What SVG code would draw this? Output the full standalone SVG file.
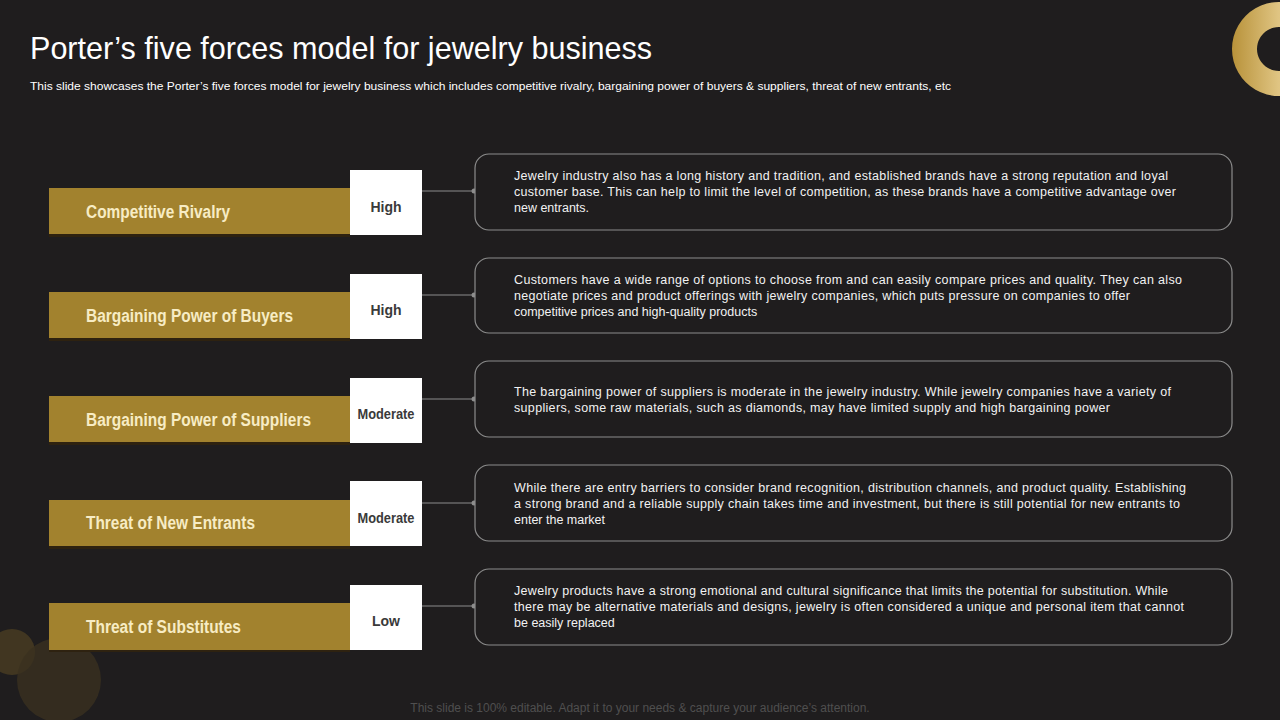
<svg xmlns="http://www.w3.org/2000/svg" width="1280" height="720" viewBox="0 0 1280 720">
<defs>
<linearGradient id="ring" x1="0" y1="0" x2="1" y2="0">
<stop offset="0" stop-color="#b8923a"/>
<stop offset="0.5" stop-color="#e0c583"/>
<stop offset="1" stop-color="#c9a75a"/>
</linearGradient>
<style>
.title{font-family:"Liberation Sans",Arial,sans-serif;font-size:32px;fill:#ffffff}
.sub{font-family:"Liberation Sans",Arial,sans-serif;font-size:11px;fill:#ffffff}
.bar{fill:#a2822e}
.shadow{fill:#2e2210}
.lab{font-family:"Liberation Sans",Arial,sans-serif;font-size:18px;font-weight:bold;fill:#f7ecc4}
.wbox{fill:#ffffff}
.lvl{font-family:"Liberation Sans",Arial,sans-serif;font-size:14px;font-weight:bold;fill:#3a3a3a;text-anchor:middle}
.card{fill:#1f1d1e;stroke:#8c8c8c;stroke-width:1.2}
.desc{font-family:"Liberation Sans",Arial,sans-serif;font-size:12.5px;fill:#f2f2f2}
.conn{stroke:#8c8c8c;stroke-width:1.2;fill:none}
.dot{fill:#8c8c8c}
.foot{font-family:"Liberation Sans",Arial,sans-serif;font-size:12px;fill:#4f4f4f;text-anchor:middle}
</style>
</defs>
<rect x="0" y="0" width="1280" height="720" fill="#1f1d1e"/>
<path d="M1279,2 a47,47 0 1,0 0.01,0 Z M1279,27 a22,22 0 1,1 -0.01,0 Z" fill="url(#ring)" fill-rule="evenodd"/>
<circle cx="12" cy="652" r="23" fill="#4a3d22" opacity="0.8"/>
<circle cx="59" cy="680" r="42" fill="#3a311f" opacity="0.8"/>
<text class="title" x="30" y="59" textLength="622" lengthAdjust="spacingAndGlyphs">Porter’s five forces model for jewelry business</text>
<text class="sub" x="30" y="90" textLength="921" lengthAdjust="spacingAndGlyphs">This slide showcases the Porter’s five forces model for jewelry business which includes competitive rivalry,  bargaining power of buyers &amp; suppliers, threat of new entrants, etc</text>

<g id="connectors">
<line class="conn" x1="422" y1="191" x2="474" y2="191"/><circle class="dot" cx="474" cy="191" r="2.5"/>
<line class="conn" x1="422" y1="295" x2="474" y2="295"/><circle class="dot" cx="474" cy="295" r="2.5"/>
<line class="conn" x1="422" y1="399" x2="474" y2="399"/><circle class="dot" cx="474" cy="399" r="2.5"/>
<line class="conn" x1="422" y1="503" x2="474" y2="503"/><circle class="dot" cx="474" cy="503" r="2.5"/>
<line class="conn" x1="422" y1="606" x2="474" y2="606"/><circle class="dot" cx="474" cy="606" r="2.5"/>
</g>

<g id="row1">
<rect class="shadow" x="49" y="188" width="301" height="49"/>
<rect class="bar" x="49" y="188" width="301" height="46"/>
<text class="lab" x="86" y="218" textLength="144" lengthAdjust="spacingAndGlyphs">Competitive Rivalry</text>
<rect class="wbox" x="350" y="170" width="72" height="65"/>
<text class="lvl" x="386" y="212">High</text>
<rect class="card" x="475" y="154" width="757" height="76" rx="14"/>
<text class="desc"><tspan x="514" y="180" textLength="654">Jewelry industry also has a long history and tradition, and established brands have a strong reputation and loyal</tspan><tspan x="514" y="196" textLength="662">customer base. This can help to limit the level of competition, as these brands have a competitive advantage over</tspan><tspan x="514" y="212">new entrants.</tspan></text>
</g>

<g id="row2">
<rect class="shadow" x="49" y="292" width="301" height="49"/>
<rect class="bar" x="49" y="292" width="301" height="46"/>
<text class="lab" x="86" y="322" textLength="207" lengthAdjust="spacingAndGlyphs">Bargaining Power of Buyers</text>
<rect class="wbox" x="350" y="274" width="72" height="65"/>
<text class="lvl" x="386" y="315">High</text>
<rect class="card" x="475" y="258" width="757" height="75" rx="14"/>
<text class="desc"><tspan x="514" y="284" textLength="668">Customers have a wide range of options to choose from and can easily compare prices and quality. They can also</tspan><tspan x="514" y="300" textLength="616">negotiate prices and product offerings with jewelry companies, which puts pressure on companies to offer</tspan><tspan x="514" y="316">competitive prices and high-quality products</tspan></text>
</g>

<g id="row3">
<rect class="shadow" x="49" y="396" width="301" height="49"/>
<rect class="bar" x="49" y="396" width="301" height="46"/>
<text class="lab" x="86" y="426" textLength="225" lengthAdjust="spacingAndGlyphs">Bargaining Power of Suppliers</text>
<rect class="wbox" x="350" y="378" width="72" height="65"/>
<text class="lvl" x="386" y="419" textLength="57" lengthAdjust="spacingAndGlyphs">Moderate</text>
<rect class="card" x="475" y="361" width="757" height="76" rx="14"/>
<text class="desc"><tspan x="514" y="396" textLength="657">The bargaining power of suppliers is moderate in the jewelry industry. While jewelry companies have a variety of</tspan><tspan x="514" y="412" textLength="596">suppliers, some raw materials, such as diamonds, may have limited supply and high bargaining power</tspan></text>
</g>

<g id="row4">
<rect class="shadow" x="49" y="500" width="301" height="49"/>
<rect class="bar" x="49" y="500" width="301" height="46"/>
<text class="lab" x="86" y="529" textLength="169" lengthAdjust="spacingAndGlyphs">Threat of New Entrants</text>
<rect class="wbox" x="350" y="481" width="72" height="65"/>
<text class="lvl" x="386" y="523" textLength="57" lengthAdjust="spacingAndGlyphs">Moderate</text>
<rect class="card" x="475" y="465" width="757" height="76" rx="14"/>
<text class="desc"><tspan x="514" y="492" textLength="672">While there are entry barriers to consider brand recognition, distribution channels, and product quality. Establishing</tspan><tspan x="514" y="508" textLength="666">a strong brand and a reliable supply chain takes time and investment, but there is still potential for new entrants to</tspan><tspan x="514" y="524">enter the market</tspan></text>
</g>

<g id="row5">
<rect class="shadow" x="49" y="603" width="301" height="49"/>
<rect class="bar" x="49" y="603" width="301" height="47"/>
<text class="lab" x="86" y="633" textLength="155" lengthAdjust="spacingAndGlyphs">Threat of Substitutes</text>
<rect class="wbox" x="350" y="585" width="72" height="65"/>
<text class="lvl" x="386" y="626">Low</text>
<rect class="card" x="475" y="569" width="757" height="76" rx="14"/>
<text class="desc"><tspan x="514" y="595" textLength="654">Jewelry products have a strong emotional and cultural significance that limits the potential for substitution. While</tspan><tspan x="514" y="611" textLength="670">there may be alternative materials and designs, jewelry is often considered a unique and personal item that cannot</tspan><tspan x="514" y="627">be easily replaced</tspan></text>
</g>

<text class="foot" x="640" y="712">This slide is 100% editable. Adapt it to your needs &amp; capture your audience’s attention.</text>
</svg>
